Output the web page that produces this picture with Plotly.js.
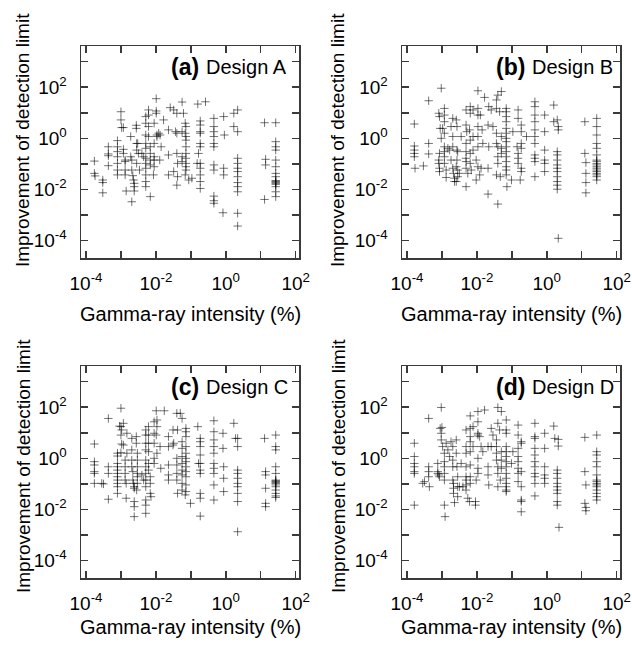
<!DOCTYPE html>
<html><head><meta charset="utf-8">
<script src="https://cdn.plot.ly/plotly-3.0.1.min.js"></script>
<style>html,body{margin:0;padding:0;background:#fff}#chart{width:632px;height:647px}</style>
</head><body><div id="chart"></div>
<script>
const panelLabels = ['(a)', '(b)', '(c)', '(d)'];
const designNames = ['Design A', 'Design B', 'Design C', 'Design D'];
const xTitle = 'Gamma-ray intensity (%)';
const yTitle = 'Improvement of detection limit';
const xMajorExp = [-4, -2, 0, 2];
const xMinorExp = [-3, -1, 1];
const xTickText = ['10<sup>-4</sup>', '10<sup>-2</sup>', '10<sup>0</sup>', '10<sup>2</sup>'];
const yMajorExp = [-4, -2, 0, 2];
const yMinorExp = [-3, -1, 1, 3];
const yTickText = ['10<sup>-4</sup>', '10<sup>-2</sup>', '10<sup>0</sup>', '10<sup>2</sup>'];

// Data columns: [log10 gamma-ray intensity (%), [log10 improvement of detection limit ...]]
const designA = [
  [-3.76, [-0.89, -1.37]], [-3.74, [-1.47]],
  [-3.52, [-1.63, -1.73, -2.13]],
  [-3.36, [-0.33, -0.61, -0.68, -1.07]],
  [-3.10, [-0.09, -0.33, -0.52, -0.72, -0.98, -1.24, -1.43]],
  [-3.00, [1.04, 0.72]], [-2.98, [0.42]], [-2.93, [0.42, -0.43, -0.59]],
  [-2.88, [-0.85, -0.91, -1.24, -1.43]], [-2.85, [-2.06]],
  [-2.72, [0.07, -0.72]], [-2.69, [-0.85, -1.24, -2.48]], [-2.66, [-1.46]], [-2.64, [-1.63]],
  [-2.62, [-1.76, -1.89, -2.06]],
  [-2.56, [0.51, 0.39]], [-2.55, [-0.20, -0.46, -0.98]], [-2.52, [-0.20]], [-2.50, [-0.59]],
  [-2.47, [-1.24]], [-2.40, [-0.59]], [-2.35, [-0.72]],
  [-2.29, [0.85, 0.59, 0.13, -0.20, -0.39, -0.78, -0.98, -1.17, -1.43, -1.69, -1.89]],
  [-2.21, [1.11, 0.91, 0.46, 0.07]], [-2.16, [-0.33, -0.59, -0.85, -1.04, -2.28]],
  [-2.05, [0.59, -0.20, -0.72, -0.85, -1.11]], [-2.07, [-1.43]],
  [-1.99, [1.55, 1.07, 0.98]], [-1.97, [0.13, 0.07]], [-1.92, [0.20]], [-1.89, [-0.85]],
  [-1.88, [0.13]], [-1.85, [-0.33]], [-1.78, [0.72]],
  [-1.64, [0.33, -0.65, -1.43]], [-1.59, [1.20]], [-1.49, [1.11, -1.30]], [-1.44, [0.26]],
  [-1.40, [0.98, 0.20, -0.59, -1.83]], [-1.38, [-0.98, -1.50]],
  [-1.25, [1.42, 0.26, -0.72, -0.91]], [-1.21, [0.98]], [-1.16, [0.59, 0.20, -1.43]],
  [-1.14, [0.46, 0.07, -0.07, -0.33, -0.59, -0.78, -0.98, -1.11, -1.24]],
  [-1.06, [-1.63]], [-0.97, [-1.56]],
  [-0.82, [-0.98]], [-0.80, [1.34]], [-0.78, [-0.59]],
  [-0.73, [0.68, 0.52, 0.26, 0.20, -0.20, -0.33, -0.98, -1.17, -1.43, -1.69, -1.96]],
  [-0.58, [1.43]],
  [-0.34, [0.78, 0.46, 0.26, 0.07, -0.20, -0.33, -1.04, -1.24, -2.26, -2.44, -2.54]],
  [-0.08, [-2.91]], [-0.06, [0.85, -1.17, -1.43]], [-0.04, [0.13]],
  [0.23, [0.98, 0.46]],
  [0.34, [1.11, 0.26, -0.78, -0.98, -1.17, -1.30, -1.50, -1.73, -1.89, -2.09, -2.93, -3.43]],
  [1.11, [0.61, -2.39]], [1.14, [-0.82, -1.04]],
  [1.43, [0.61, -0.13, -0.33, -0.46, -0.85, -1.11, -1.37, -1.50, -1.65, -1.69, -1.72, -1.76, -1.80, -1.89, -2.09, -2.28]]
];

const designB = [
  [-3.79, [0.56, -0.30, -0.46, -0.59, -0.72]], [-3.77, [-1.17]],
  [-3.53, [-1.08]],
  [-3.38, [1.47, -0.20, -0.61]],
  [-3.09, [0.98, -0.85, -0.98]], [-3.07, [0.85, -0.59, -1.17, -1.30]], [-3.05, [0.39]],
  [-3.02, [1.96, 0.00]],
  [-2.98, [0.39]], [-2.93, [1.17, 0.91, 0.65, 0.20, -0.33, -0.52, -0.72, -0.98]], [-2.88, [-1.24, -1.53]],
  [-2.83, [-0.39]], [-2.78, [-0.46]], [-2.74, [0.46, -0.85]],
  [-2.69, [0.78, 0.07, -0.33, -1.17]], [-2.67, [-1.37]], [-2.64, [-1.56, -1.69]],
  [-2.59, [0.72, -1.11, -1.69]], [-2.57, [0.46, -0.46, -0.85]], [-2.55, [-0.52, -1.24, -1.50]],
  [-2.50, [-1.37]], [-2.45, [0.07]],
  [-2.31, [1.11, 0.52, -0.20, -0.52, -0.78, -0.91, -1.17, -1.89]], [-2.29, [0.26]], [-2.26, [-1.37]],
  [-2.21, [0.33]], [-2.19, [1.24, 0.98, -0.07, -0.59, -0.98]], [-2.16, [-1.24]],
  [-2.11, [1.11, 0.07, -0.46]],
  [-2.02, [-0.85, -1.63]], [-1.97, [1.86, 1.17, 0.91, 0.46, 0.07, -0.33, -1.11]],
  [-1.92, [-1.43]], [-1.90, [0.91]], [-1.88, [-1.17]],
  [-1.85, [0.33]], [-1.83, [-0.20]], [-1.78, [1.60]],
  [-1.68, [0.52, -1.17, -2.18]], [-1.66, [1.24, -0.33]],
  [-1.59, [1.11]], [-1.54, [0.46]],
  [-1.44, [1.50, 1.17, 0.20, -0.20, -1.43]], [-1.40, [1.69, -0.33, -0.72, -0.98, -2.57]],
  [-1.35, [1.04]], [-1.33, [-1.50]], [-1.30, [1.83, 0.07, -0.39, -0.59]],
  [-1.16, [1.17, 1.04, 0.85, 0.65, 0.39, 0.20, 0.00, -0.13, -0.33, -0.52, -0.72, -0.91, -1.11, -1.24, -1.43]],
  [-1.14, [-1.89]],
  [-1.01, [-1.63]], [-0.97, [0.26]],
  [-0.85, [-0.33]], [-0.82, [1.11, 0.78, -0.59, -0.78, -0.98]],
  [-0.76, [-1.63]], [-0.73, [0.52, 0.26, -0.20, -0.39, -1.17, -1.30]],
  [-0.58, [0.07]],
  [-0.34, [1.43, 1.24, 0.91, 0.65, 0.33, 0.07, -0.20, -0.65, -0.78, -0.91, -1.50]],
  [-0.06, [0.91, 0.26, -0.46, -0.85, -0.98, -1.30]],
  [0.20, [1.30, 0.65]],
  [0.30, [0.72, -0.52, -0.65, -0.85, -1.04, -1.17, -1.30, -1.50, -1.69, -1.83, -1.99]],
  [0.33, [0.46, 0.33, -3.91]],
  [1.09, [0.65, -0.59]], [1.12, [-0.95, -1.37, -1.73, -2.13]],
  [1.43, [0.78, 0.46, 0.13, -0.20, -0.39, -0.65, -0.85, -0.90, -0.98, -1.04, -1.11, -1.17, -1.24, -1.30, -1.37, -1.43, -1.50, -1.63]]
];

const designC = [
  [-3.76, [0.56, -0.13, -0.26, -0.52, -0.59, -0.98]],
  [-3.55, [-0.98]], [-3.50, [-1.00]],
  [-3.36, [1.56, -0.33, -0.59, -1.60]],
  [-3.10, [0.20, 0.09, -0.20, -0.33, -0.46, -0.59, -0.72, -0.85, -0.98, -1.11, -1.37]],
  [-3.04, [1.26]], [-3.00, [1.96, 1.24, 0.91, 0.22]], [-2.98, [1.11, 0.56]], [-2.93, [1.37, 0.52]],
  [-2.88, [-0.07, -0.33, -0.59, -0.85]], [-2.85, [-0.98, -1.56]],
  [-2.83, [0.98, 0.20]],
  [-2.69, [0.78, 0.33, -0.07, -0.33]], [-2.66, [-0.52, -0.85]], [-2.64, [-0.98]],
  [-2.62, [-1.11, -1.17, -1.69, -1.89, -2.28]],
  [-2.56, [0.85, 0.59]], [-2.55, [-1.24]], [-2.53, [0.20, -0.07, -0.33, -0.59, -0.72, -0.98]],
  [-2.40, [-0.65]], [-2.35, [-0.85]],
  [-2.29, [1.11, 0.91, 0.59, 0.33, -0.07, -0.33, -0.59, -0.85, -1.11, -1.63, -1.83, -2.15]],
  [-2.21, [1.24, 0.91, 0.59, 0.26, -0.20, -0.46]], [-2.16, [-0.72, -0.98, -1.37]], [-2.14, [-1.50]],
  [-2.05, [1.43, 0.98, 0.59, 0.00, -0.20]],
  [-1.99, [1.86, 0.91]], [-1.97, [1.50, 1.24, 0.20]],
  [-1.88, [0.46]], [-1.86, [-0.39]], [-1.76, [1.86]],
  [-1.64, [0.85, 0.46, -0.26, -0.65, -0.85]],
  [-1.51, [1.11, 0.52]], [-1.49, [0.59]],
  [-1.40, [1.76, 0.00, -0.26, -0.59, -0.85]], [-1.38, [1.11, -1.37]], [-1.30, [1.76]],
  [-1.25, [1.56, 0.65, 0.39, 0.07, -0.20, -0.46, -0.65, -0.98, -1.24]],
  [-1.16, [-1.43]],
  [-1.14, [1.17, 1.04, 0.85, 0.46, 0.20, 0.00, -0.13, -0.33, -0.52, -0.72, -1.04, -1.30]],
  [-1.01, [-1.76]],
  [-0.80, [1.24]], [-0.78, [-0.20]],
  [-0.73, [0.78, 0.65, 0.46, 0.13, -0.20, -0.46, -0.59, -1.37, -1.56, -2.26]],
  [-0.34, [1.47, 1.04, 0.72, 0.46, 0.20, -0.20, -0.39, -0.59, -1.04, -1.63]],
  [-0.08, [0.98, 0.39]], [-0.06, [-0.33, -0.78, -1.30]],
  [0.23, [1.37]], [0.28, [0.78]],
  [0.34, [0.78, 0.46, -0.46, -0.59, -0.78, -0.98, -1.11, -1.37, -1.69, -2.87]],
  [1.11, [0.78]], [1.14, [-0.52, -0.65, -1.17, -1.76, -1.89]],
  [1.43, [0.91, 0.46, 0.33, -0.33, -0.59, -0.85, -0.88, -0.91, -0.95, -0.98, -1.04, -1.11, -1.24, -1.37, -1.47, -1.53]]
];

const designD = [
  [-3.79, [0.59, 0.07, -0.20, -0.33, -0.52, -0.59, -1.83]],
  [-3.55, [-0.98]], [-3.50, [-0.91]],
  [-3.38, [1.56, -0.33, -0.52, -0.72]], [-3.36, [-1.11]],
  [-3.12, [-0.20, -0.52, -0.59]], [-3.09, [-0.65]], [-3.07, [-0.72]],
  [-3.05, [1.17]], [-3.02, [1.99, 0.98, 0.72]], [-3.00, [1.21]], [-2.98, [0.46]],
  [-2.93, [0.20, -0.13, -0.33, -0.59, -0.85, -1.83]], [-2.91, [-2.28]],
  [-2.88, [0.59]], [-2.83, [0.33]], [-2.78, [0.07]],
  [-2.74, [0.65]], [-2.69, [0.46, -0.07, -0.33, -0.85]], [-2.67, [-0.98, -1.17, -1.37]], [-2.64, [-1.73]],
  [-2.59, [0.72, 0.20]], [-2.57, [-0.33]], [-2.55, [-0.72, -1.11, -1.50]], [-2.50, [-1.11]],
  [-2.45, [-0.20]], [-2.40, [-1.11]],
  [-2.31, [1.11, 0.46, 0.20, -0.33, -0.72, -0.85, -1.04, -1.24]], [-2.26, [-1.56]], [-2.21, [-1.69]],
  [-2.19, [1.66, 1.17, 0.85, 0.65, 0.26, -0.26, -0.72, -0.98]],
  [-2.11, [1.24, 0.46]],
  [-2.04, [-1.83, -1.69]], [-2.02, [-0.85]],
  [-1.97, [1.83, 1.43, 0.98, 0.91, 0.00, -0.39, -0.59]], [-1.92, [0.85]],
  [-1.88, [0.46]], [-1.83, [0.26]], [-1.78, [1.89]],
  [-1.68, [0.46, -0.33, -0.65]], [-1.66, [-1.04]],
  [-1.59, [1.17, 0.46]], [-1.54, [0.91]],
  [-1.44, [0.72, 0.46, 0.20, -0.07]], [-1.40, [1.99, 1.37, -0.33, -0.59, -1.11]],
  [-1.35, [1.11]], [-1.33, [-0.85]], [-1.30, [1.83, 0.26, -0.07, -0.39]],
  [-1.16, [1.50, 1.11, 0.98, 0.46, 0.26, 0.07, -0.13, -0.33, -0.59, -0.78, -0.98, -1.11, -1.24, -1.30]],
  [-1.01, [-0.20]], [-0.97, [0.26]],
  [-0.82, [1.30, 0.91, 0.39, 0.07, -0.13, -0.39, -0.59, -0.91]],
  [-0.73, [0.65, 0.59, -0.52, -1.11, -1.63, -1.69, -2.09]],
  [-0.34, [1.37, 0.85, 0.78, 0.39, 0.13, -0.13, -0.33, -0.59, -0.72, -0.98, -1.47]],
  [-0.06, [0.98, 0.39, -0.33, -0.65, -0.78, -0.98]],
  [0.20, [1.26]], [0.23, [0.78]], [0.33, [0.74, 0.48]],
  [0.30, [-0.46, -0.59, -0.78, -0.98, -1.11, -1.24, -1.37, -1.69, -1.83]], [0.35, [-2.70]],
  [1.09, [0.82, -0.52, -1.76]], [1.12, [-1.04, -1.92, -2.05]],
  [1.43, [0.91, 0.26, 0.13, -0.13, -0.33, -0.65, -0.85, -0.91, -0.98, -1.04, -1.11, -1.24, -1.37, -1.50, -1.63]]
];

const designs = [designA, designB, designC, designD];

// Panel geometry (pixels in the 632x647 figure)
const W = 632, H = 647;
const panelBoxes = [
  {x0: 81, x1: 299, y0: 46, y1: 258},
  {x0: 402, x1: 620, y0: 46, y1: 258},
  {x0: 81, x1: 299, y0: 366, y1: 578},
  {x0: 402, x1: 620, y0: 366, y1: 578}
];

const FONT = 'Liberation Sans, Arial, Helvetica, sans-serif';
const axisColor = '#3a3a3a';
const traces = [];
const layout = {
  width: W, height: H,
  margin: {l: 0, r: 0, t: 0, b: 0},
  paper_bgcolor: '#fff', plot_bgcolor: '#fff',
  showlegend: false, hovermode: false,
  font: {family: FONT, color: '#000', size: 18},
  annotations: []
};

const pow10 = e => Math.pow(10, e);

designs.forEach((cols, i) => {
  const xs = [], ys = [];
  cols.forEach(([lx, lys]) => {
    lys.forEach(ly => { xs.push(pow10(lx)); ys.push(pow10(ly)); });
  });
  const n = i === 0 ? '' : String(i + 1);
  traces.push({
    type: 'scatter', mode: 'markers', x: xs, y: ys,
    xaxis: 'x' + n, yaxis: 'y' + n,
    marker: {symbol: 'cross-thin', size: 6, color: 'rgba(0,0,0,0.55)',
             line: {width: 1, color: 'rgba(0,0,0,0.55)'}}
  });
  const b = panelBoxes[i];
  const common = {
    type: 'log', showgrid: false, zeroline: false,
    showline: true, linecolor: axisColor, linewidth: 1.5, mirror: 'allticks',
    ticks: 'inside', ticklen: 7, tickwidth: 1.5, tickcolor: axisColor,
    tickfont: {family: FONT, size: 19, color: '#000'}
  };
  layout['xaxis' + n] = Object.assign({}, common, {
    domain: [b.x0 / W, b.x1 / W], range: [-4.143, 2.096],
    tickmode: 'array', tickvals: xMajorExp.map(pow10), ticktext: xTickText,
    minor: {tickmode: 'array', tickvals: xMinorExp.map(pow10), ticks: 'inside',
            ticklen: 7, tickwidth: 1.5, tickcolor: axisColor, showgrid: false},
    anchor: 'y' + n, ticklabelstandoff: 8
  });
  layout['yaxis' + n] = Object.assign({}, common, {
    domain: [1 - b.y1 / H, 1 - b.y0 / H], range: [-4.68, 3.611],
    tickmode: 'array', tickvals: yMajorExp.map(pow10), ticktext: yTickText,
    minor: {tickmode: 'array', tickvals: yMinorExp.map(pow10), ticks: 'inside',
            ticklen: 7, tickwidth: 1.5, tickcolor: axisColor, showgrid: false},
    anchor: 'x' + n, ticklabelstandoff: 9
  });
  const left = i % 2 === 0;
  const top = i < 2;
  // x-axis title
  layout.annotations.push({
    xref: 'paper', yref: 'paper', x: (b.x0 + b.x1) / 2 / W, y: 1 - (top ? 314 : 627) / H,
    xanchor: 'center', yanchor: 'middle', showarrow: false,
    text: xTitle, font: {family: FONT, size: 20, color: '#000'}
  });
  // y-axis title
  layout.annotations.push({
    xref: 'paper', yref: 'paper', x: (left ? 23 : 338) / W, y: 1 - (top ? 140 : 466) / H,
    xanchor: 'center', yanchor: 'middle', showarrow: false, textangle: -90,
    text: yTitle, font: {family: FONT, size: 19, color: '#000'}
  });
  // panel label
  const labY = 1 - (b.y0 + 21) / H;
  const splitX = left ? 203 : 529;
  layout.annotations.push({
    xref: 'paper', yref: 'paper', x: (splitX - 2) / W, y: labY,
    xanchor: 'right', yanchor: 'middle', showarrow: false,
    text: '<b>' + panelLabels[i] + '</b>', font: {family: FONT, size: 23, color: '#000'}
  });
  layout.annotations.push({
    xref: 'paper', yref: 'paper', x: (splitX + 1) / W, y: labY,
    xanchor: 'left', yanchor: 'middle', showarrow: false,
    text: designNames[i], font: {family: FONT, size: 20, color: '#000'}
  });
});

Plotly.newPlot('chart', traces, layout, {staticPlot: true, displayModeBar: false});
</script>
</body></html>
